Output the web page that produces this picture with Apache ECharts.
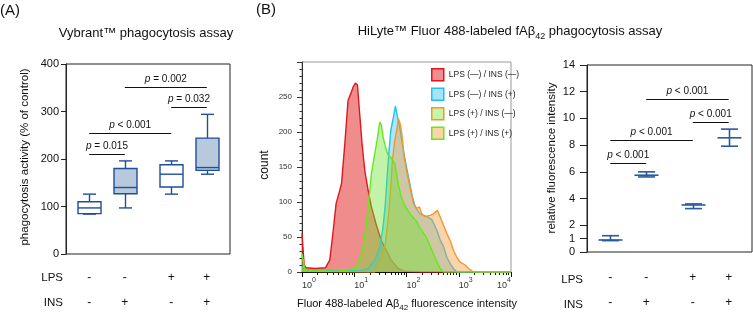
<!DOCTYPE html>
<html><head><meta charset="utf-8">
<script src="https://cdn.jsdelivr.net/npm/echarts@6/dist/echarts.min.js"></script>
<style>html,body{margin:0;padding:0;background:#fff}#c{width:753px;height:315px}</style>
</head><body><div id="c"></div>
<script>
const FONT = '"Liberation Sans", Arial, sans-serif';

// ---------- shared group layout ----------
const groupPos = [1, 2, 3.3, 4.3];
const lpsSigns = ['-', '-', '+', '+'];
const insSigns = ['-', '+', '-', '+'];

// ---------- Panel A: Vybrant boxplot ----------
const boxMin    = [84, 97, 126, 168];
const boxQ1     = [85, 127, 141, 176];
const boxMedian = [97, 140, 168, 182];
const boxQ3     = [110, 180, 188, 244];
const boxMax    = [126, 196, 196, 294];
const boxFilled = [0, 1, 0, 1];
const sigAFrom  = [1, 1, 2, 3.3];
const sigATo    = [2, 3.3, 4.3, 4.3];
const sigAY     = [210, 255, 351, 309];
const sigALabel = ['= 0.015', '< 0.001', '= 0.002', '= 0.032'];

// ---------- Panel C: relative fluorescence ----------
const fluorMean  = [0.9, 5.75, 3.52, 8.55];
const fluorUpper = [1.22, 6.0, 3.6, 9.2];
const fluorLower = [0.85, 5.62, 3.25, 7.92];
const ticksC     = [0, 1, 2, 4, 6, 8, 10, 12, 14];
const sigCFrom   = [1, 1, 2, 3.3];
const sigCTo     = [2, 3.3, 4.3, 4.3];
const sigCY      = [6.67, 8.41, 11.43, 9.75];
const sigCLabel  = ['< 0.001', '< 0.001', '< 0.001', '< 0.001'];

// ---------- Panel B: histogram ----------
const histNames = ['LPS (—) / INS (—)', 'LPS (—) / INS (+)', 'LPS (+) / INS (—)', 'LPS (+) / INS (+)'];
const histRed = [[1,55],[1.1,10],[1.2,6],[1.8,5],[2.8,6],[3.4,17],[3.9,55],[4.5,98],[5.3,117],[5.7,126],[6.6,183],[7.6,245],[8.8,257],[9.5,264],[10.5,270],[11.5,267],[12.7,226],[14.1,183],[15.9,145],[18.4,117],[21.3,93],[26.5,67],[33,45],[41,31],[51,17],[69,5],[94,1],[200,0],[10000,0]];
const histCyan = [[1,8],[1.1,3],[5,2],[13.7,2],[18.4,5],[24.7,17],[30.8,36],[35.6,64],[39.4,98],[43,141],[45.8,169],[50,202],[55.4,219],[61.3,237],[66,224],[71.2,214],[81.3,188],[94,160],[109,136],[126,112],[146,93],[182,83],[245,79],[305,75],[380,60],[440,46],[509,37],[592,21],[684,12],[791,5],[920,0],[10000,0]];
const histOrange = [[1,3],[1.1,1],[24.7,0],[33,17],[39.4,41],[44.4,74],[50,121],[53.7,160],[59.7,188],[66,205],[70,219],[75.4,212],[81.3,198],[90,164],[101,143],[117,121],[136,98],[157,91],[177,93],[196,83],[227,79],[283,81],[327,83],[391,88],[440,79],[509,67],[592,55],[684,45],[791,31],[920,21],[1064,14],[1327,10],[1535,5],[1914,0],[10000,0]];
const histGreen = [[1,26],[1.14,2],[5,1],[10.2,5],[12.7,17],[14.7,36],[17.1,69],[19,102],[21.3,141],[24.7,169],[27.3,188],[30.8,214],[33,210],[35.6,193],[39.4,179],[44.4,167],[50,164],[59.7,155],[69,127],[79.8,106],[94,94],[117,83],[140,76],[157,72],[182,62],[211,56],[245,48],[283,37],[327,26],[380,15],[440,5],[509,0],[10000,0]];
const histExpLabels = ['0', '1', '2', '3', '4'];

// ---------- styles ----------
const BOX_STROKE = '#1f4e9a';
const BOX_FILL = '#b9c9dd';
const ERR_STROKE = '#2a5aa0';
const histLine = ['#e3161c', '#22bff0', '#f5962a', '#62ea1c'];
const histFill = ['rgba(226,48,48,0.55)', 'rgba(48,192,240,0.40)', 'rgba(248,160,64,0.45)', 'rgba(112,226,48,0.42)'];
const legendFill = ['#ef8e8e', '#a6e4f9', '#c6f4a8', '#fcd4a8'];

const minorLogTicks = [];
for (let k = 0; k < 4; k++) for (let m = 2; m <= 9; m++) minorLogTicks.push(k + Math.log10(m));

function rowLabel(v) {
  const i = groupPos.indexOf(v);
  return i < 0 ? '' : lpsSigns[i] + '\n' + insSigns[i];
}

function renderBox(params, api) {
  const x = api.value(0);
  const pMin = api.coord([x, api.value(1)]);
  const pQ1 = api.coord([x, api.value(2)]);
  const pMed = api.coord([x, api.value(3)]);
  const pQ3 = api.coord([x, api.value(4)]);
  const pMax = api.coord([x, api.value(5)]);
  const filled = api.value(6) === 1;
  const cx = Math.round(pMed[0]) + 0.5, hw = 11.5, cw = 6.5;
  const st = { stroke: BOX_STROKE, lineWidth: 1.4, fill: null };
  return { type: 'group', children: [
    { type: 'line', shape: { x1: cx, y1: pMax[1], x2: cx, y2: pQ3[1] }, style: st },
    { type: 'line', shape: { x1: cx, y1: pQ1[1], x2: cx, y2: pMin[1] }, style: st },
    { type: 'line', shape: { x1: cx - cw, y1: pMax[1], x2: cx + cw, y2: pMax[1] }, style: st },
    { type: 'line', shape: { x1: cx - cw, y1: pMin[1], x2: cx + cw, y2: pMin[1] }, style: st },
    { type: 'rect', shape: { x: cx - hw, y: pQ3[1], width: 2 * hw, height: pQ1[1] - pQ3[1] },
      style: { stroke: BOX_STROKE, lineWidth: 1.4, fill: filled ? BOX_FILL : '#fff' } },
    { type: 'line', shape: { x1: cx - hw, y1: pMed[1], x2: cx + hw, y2: pMed[1] }, style: st }
  ]};
}

function renderErr(params, api) {
  const x = api.value(0);
  const pm = api.coord([x, api.value(1)]);
  const plo = api.coord([x, api.value(2)]);
  const phi = api.coord([x, api.value(3)]);
  const cx = Math.round(pm[0]) + 0.5, mw = 12, cw = 8.5;
  const st = { stroke: ERR_STROKE, lineWidth: 1.6, fill: null };
  return { type: 'group', children: [
    { type: 'line', shape: { x1: cx, y1: phi[1], x2: cx, y2: plo[1] }, style: st },
    { type: 'line', shape: { x1: cx - cw, y1: phi[1], x2: cx + cw, y2: phi[1] }, style: st },
    { type: 'line', shape: { x1: cx - cw, y1: plo[1], x2: cx + cw, y2: plo[1] }, style: st },
    { type: 'line', shape: { x1: cx - mw, y1: pm[1], x2: cx + mw, y2: pm[1] }, style: st }
  ]};
}

function makeSigRenderer(labels) {
  return function (params, api) {
    const a = api.coord([api.value(0), api.value(2)]);
    const b = api.coord([api.value(1), api.value(2)]);
    const y = Math.round(a[1]) + 0.5;
    return { type: 'group', children: [
      { type: 'line', shape: { x1: a[0], y1: y, x2: b[0], y2: y }, style: { stroke: '#111', lineWidth: 1.2 } },
      { type: 'text', x: (a[0] + b[0]) / 2, y: y - 3, style: {
        text: '{i|p}{n| ' + labels[params.dataIndex] + '}',
        align: 'center', verticalAlign: 'bottom', fill: '#111',
        rich: { i: { fontStyle: 'italic', fontSize: 10, fontFamily: FONT, fill: '#111' },
                n: { fontSize: 10, fontFamily: FONT, fill: '#111' } } } }
    ]};
  };
}

const catAxis = (grid, margin) => ({
  type: 'value', gridIndex: grid, min: 0.35, max: 4.95,
  axisLine: { show: false }, axisTick: { show: false }, splitLine: { show: false },
  axisLabel: { customValues: groupPos, formatter: rowLabel, margin: margin, lineHeight: 25,
    fontSize: 12, fontFamily: FONT, color: '#111' }
});

const chart = echarts.init(document.getElementById('c'), null, { renderer: 'canvas' });

const histSeries = [histRed, histCyan, histOrange, histGreen].map((d, i) => ({
  type: 'line', name: histNames[i], xAxisIndex: 1, yAxisIndex: 1, data: d,
  symbol: 'none', smooth: false, silent: true, z: 2 + i,
  lineStyle: { color: histLine[i], width: 1.4 },
  itemStyle: { color: histLine[i] },
  areaStyle: { color: histFill[i], opacity: 1 }
}));

chart.setOption({
  animation: false,
  textStyle: { fontFamily: FONT },
  grid: [
    { left: 66, top: 64, width: 164, height: 190, show: true, borderColor: '#222', borderWidth: 1, backgroundColor: 'transparent' },
    { left: 302, top: 62, width: 209, height: 210, show: true, borderColor: '#999', borderWidth: 1, backgroundColor: 'transparent' },
    { left: 587, top: 65, width: 165, height: 189, show: true, borderColor: '#222', borderWidth: 1, backgroundColor: 'transparent' }
  ],
  xAxis: [
    catAxis(0, 11),
    { type: 'log', logBase: 10, gridIndex: 1, min: 1, max: 10000,
      axisLine: { show: true, lineStyle: { color: '#111', width: 1 } },
      axisTick: { show: true, length: 5, lineStyle: { color: '#111' } },
      splitLine: { show: false }, minorTick: { show: false },
      axisLabel: { margin: 5, align: 'left', alignMaxLabel: 'right', color: '#333',
        formatter: v => '{b|10}{s|' + histExpLabels[Math.round(Math.log10(v))] + '}',
        rich: { b: { fontSize: 9, fontFamily: FONT, color: '#333', verticalAlign: 'bottom', lineHeight: 13 },
                s: { fontSize: 7, fontFamily: FONT, color: '#333', verticalAlign: 'top', lineHeight: 13 } } } },
    { type: 'value', gridIndex: 1, min: 0, max: 4, position: 'bottom',
      axisLine: { show: false }, splitLine: { show: false },
      axisTick: { show: true, length: 3, customValues: minorLogTicks, lineStyle: { color: '#111' } },
      axisLabel: { show: false } },
    catAxis(2, 13)
  ],
  yAxis: [
    { type: 'value', gridIndex: 0, min: 0, max: 400, interval: 100,
      axisLine: { show: true, lineStyle: { color: '#222' } },
      axisTick: { show: true, length: 5, lineStyle: { color: '#222' } },
      splitLine: { show: false },
      axisLabel: { margin: 7, fontSize: 11, fontFamily: FONT, color: '#111' } },
    { type: 'value', gridIndex: 1, min: 0, max: 300, interval: 50,
      axisLine: { show: true, lineStyle: { color: '#333' } },
      axisTick: { show: true, length: 5, lineStyle: { color: '#333' } },
      minorTick: { show: true, splitNumber: 5, length: 2.5, lineStyle: { color: '#333' } },
      splitLine: { show: false }, minorSplitLine: { show: false },
      axisLabel: { margin: 10, fontSize: 8, fontFamily: FONT, color: '#333', formatter: v => v >= 300 ? '' : String(v) } },
    { type: 'value', gridIndex: 2, min: 0, max: 14,
      axisLine: { show: true, lineStyle: { color: '#222' } },
      axisTick: { show: true, length: 7, customValues: ticksC, lineStyle: { color: '#222' } },
      splitLine: { show: false },
      axisLabel: { customValues: ticksC, margin: 12, fontSize: 11, fontFamily: FONT, color: '#111' } }
  ],
  legend: {
    orient: 'vertical', left: 426, top: 63, itemWidth: 12, itemHeight: 12, itemGap: 6,
    selectedMode: false, padding: [5, 5, 5, 5],
    textStyle: { fontSize: 8.5, fontFamily: FONT, color: '#222' },
    data: histNames.map((n, i) => ({ name: n, icon: 'rect',
      itemStyle: { color: legendFill[i], borderColor: histLine[i], borderWidth: 1.5 } }))
  },
  series: [
    { type: 'custom', xAxisIndex: 0, yAxisIndex: 0, renderItem: renderBox, silent: true,
      encode: { x: 0, y: [1, 2, 3, 4, 5] },
      data: groupPos.map((p, i) => [p, boxMin[i], boxQ1[i], boxMedian[i], boxQ3[i], boxMax[i], boxFilled[i]]) },
    { type: 'custom', xAxisIndex: 0, yAxisIndex: 0, renderItem: makeSigRenderer(sigALabel), silent: true,
      encode: { x: [0, 1], y: 2 },
      data: sigAFrom.map((f, i) => [f, sigATo[i], sigAY[i]]) },
    ...histSeries,
    { type: 'custom', xAxisIndex: 3, yAxisIndex: 2, renderItem: renderErr, silent: true,
      encode: { x: 0, y: [1, 2, 3] },
      data: groupPos.map((p, i) => [p, fluorMean[i], fluorLower[i], fluorUpper[i]]) },
    { type: 'custom', xAxisIndex: 3, yAxisIndex: 2, renderItem: makeSigRenderer(sigCLabel), silent: true,
      encode: { x: [0, 1], y: 2 },
      data: sigCFrom.map((f, i) => [f, sigCTo[i], sigCY[i]]) }
  ],
  graphic: [
    { type: 'text', x: 0, y: 11, style: { text: '(A)', font: '15px ' + FONT, fill: '#111', verticalAlign: 'middle' } },
    { type: 'text', x: 256, y: 10, style: { text: '(B)', font: '15px ' + FONT, fill: '#111', verticalAlign: 'middle' } },
    { type: 'text', x: 146, y: 33, style: { text: 'Vybrant™ phagocytosis assay', font: '13px ' + FONT, fill: '#111', align: 'center', verticalAlign: 'middle' } },
    { type: 'text', x: 510, y: 33, style: { text: '{n|HiLyte™ Fluor 488-labeled fAβ}{s|42}{n| phagocytosis assay}', align: 'center', verticalAlign: 'middle',
      rich: { n: { fontSize: 13, fontFamily: FONT, fill: '#111', lineHeight: 17, verticalAlign: 'top' },
              s: { fontSize: 9, fontFamily: FONT, fill: '#111', lineHeight: 11, verticalAlign: 'bottom' } } } },
    { type: 'text', x: 25, y: 157, rotation: Math.PI / 2, style: { text: 'phagocytosis activity (% of control)', font: '11.5px ' + FONT, fill: '#111', align: 'center', verticalAlign: 'middle' } },
    { type: 'text', x: 552, y: 158, rotation: Math.PI / 2, style: { text: 'relative fluorescence intensity', font: '11.5px ' + FONT, fill: '#111', align: 'center', verticalAlign: 'middle' } },
    { type: 'text', x: 265, y: 165, rotation: Math.PI / 2, style: { text: 'count', font: '12px ' + FONT, fill: '#111', align: 'center', verticalAlign: 'middle' } },
    { type: 'text', x: 407, y: 305, style: { text: '{n|Fluor 488-labeled Aβ}{s|42}{n| fluorescence intensity}', align: 'center', verticalAlign: 'middle',
      rich: { n: { fontSize: 11, fontFamily: FONT, fill: '#111', lineHeight: 14, verticalAlign: 'top' },
              s: { fontSize: 8, fontFamily: FONT, fill: '#111', lineHeight: 10, verticalAlign: 'bottom' } } } },
    { type: 'text', x: 63, y: 278, style: { text: 'LPS', font: '11.5px ' + FONT, fill: '#111', align: 'right', verticalAlign: 'middle' } },
    { type: 'text', x: 63, y: 303, style: { text: 'INS', font: '11.5px ' + FONT, fill: '#111', align: 'right', verticalAlign: 'middle' } },
    { type: 'text', x: 583, y: 280, style: { text: 'LPS', font: '11.5px ' + FONT, fill: '#111', align: 'right', verticalAlign: 'middle' } },
    { type: 'text', x: 583, y: 305, style: { text: 'INS', font: '11.5px ' + FONT, fill: '#111', align: 'right', verticalAlign: 'middle' } }
  ]
});
</script></body></html>
